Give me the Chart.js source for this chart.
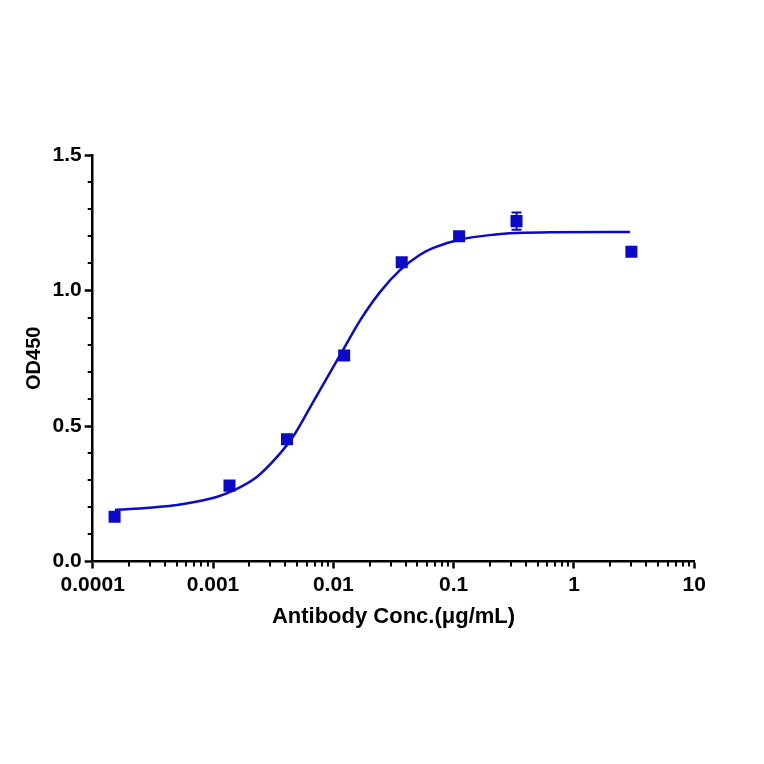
<!DOCTYPE html>
<html>
<head>
<meta charset="utf-8">
<script src="https://cdn.jsdelivr.net/npm/chart.js@4.4.1/dist/chart.umd.min.js"></script>
<style>
html,body{margin:0;padding:0;background:#fff;}
canvas{display:block;}
</style>
</head>
<body>
<canvas id="c" width="764" height="764"></canvas>
<script>
// measured data points
const concentrations = [0.000152, 0.00137, 0.00412, 0.0123, 0.037, 0.111, 0.333, 3];
const od450 = [0.165, 0.280, 0.451, 0.760, 1.104, 1.200, 1.256, 1.143];
const od450Err = [0.008, 0.010, 0.010, 0.012, 0.012, 0.010, 0.032, 0.008];

// fitted curve
const curveX = [0.000153, 0.000299, 0.000566, 0.00107, 0.00148, 0.00231, 0.00339, 0.00465, 0.00682, 0.0114, 0.0167, 0.0245, 0.0358, 0.0525, 0.0678, 0.113, 0.214, 0.334, 0.632, 2.92];
const curveY = [0.190, 0.198, 0.212, 0.238, 0.262, 0.312, 0.385, 0.462, 0.590, 0.762, 0.890, 0.995, 1.075, 1.132, 1.157, 1.188, 1.206, 1.212, 1.215, 1.216];

// axes
const xMajorTicks = [0.0001, 0.001, 0.01, 0.1, 1, 10];
const xTickLabels = ['0.0001', '0.001', '0.01', '0.1', '1', '10'];
const xMinorMultipliers = [2, 3, 4, 5, 6, 7, 8, 9];
const yMajorTicks = [0, 0.5, 1.0, 1.5];
const yTickLabels = ['0.0', '0.5', '1.0', '1.5'];
const yMinorTicks = [0.1, 0.2, 0.3, 0.4, 0.6, 0.7, 0.8, 0.9, 1.1, 1.2, 1.3, 1.4];

const xTitle = 'Antibody Conc.(\u03bcg/mL)';
const yTitle = 'OD450';

const BLUE = '#0a0ac8';
const FONT = '"Liberation Sans", Arial, sans-serif';

const minorTicksPlugin = {
  id: 'minorTicks',
  afterDraw(chart) {
    const ctx = chart.ctx;
    const xs = chart.scales.x, ys = chart.scales.y;
    const area = chart.chartArea;
    ctx.save();
    ctx.strokeStyle = '#000';
    ctx.lineWidth = 2;
    ctx.beginPath();
    for (let k = 0; k < xMajorTicks.length - 1; k++) {
      for (const m of xMinorMultipliers) {
        const px = Math.round(xs.getPixelForValue(xMajorTicks[k] * m));
        ctx.moveTo(px, area.bottom);
        ctx.lineTo(px, area.bottom + 5);
      }
    }
    for (const v of yMinorTicks) {
      const py = Math.round(ys.getPixelForValue(v));
      ctx.moveTo(area.left, py);
      ctx.lineTo(area.left - 5, py);
    }
    ctx.stroke();
    ctx.restore();
  }
};

const errorBarPlugin = {
  id: 'errorBars',
  afterDatasetsDraw(chart) {
    const ctx = chart.ctx;
    const xs = chart.scales.x, ys = chart.scales.y;
    ctx.save();
    ctx.strokeStyle = BLUE;
    ctx.lineWidth = 2;
    ctx.beginPath();
    for (let i = 0; i < concentrations.length; i++) {
      const px = xs.getPixelForValue(concentrations[i]);
      const pTop = ys.getPixelForValue(od450[i] + od450Err[i]);
      const pBot = ys.getPixelForValue(od450[i] - od450Err[i]);
      ctx.moveTo(px, pTop); ctx.lineTo(px, pBot);
      ctx.moveTo(px - 5, pTop); ctx.lineTo(px + 5, pTop);
      ctx.moveTo(px - 5, pBot); ctx.lineTo(px + 5, pBot);
    }
    ctx.stroke();
    ctx.restore();
  }
};

new Chart(document.getElementById('c'), {
  type: 'scatter',
  data: {
    datasets: [
      {
        label: 'data',
        data: concentrations.map((x, i) => ({x: x, y: od450[i]})),
        pointStyle: 'rect',
        pointRadius: 8.5,
        backgroundColor: BLUE,
        borderColor: BLUE,
        borderWidth: 0,
        showLine: false,
        order: 0
      },
      {
        label: 'fit',
        data: curveX.map((x, i) => ({x: x, y: curveY[i]})),
        showLine: true,
        pointRadius: 0,
        borderColor: BLUE,
        borderWidth: 2.5,
        cubicInterpolationMode: 'monotone',
        fill: false,
        order: 1
      }
    ]
  },
  options: {
    responsive: false,
    animation: false,
    devicePixelRatio: 1,
    layout: { padding: { left: 18, top: 155, right: 69.7, bottom: 130 } },
    plugins: { legend: { display: false }, tooltip: { enabled: false } },
    scales: {
      x: {
        type: 'logarithmic',
        min: 0.0001,
        max: 10,
        afterBuildTicks(scale) {
          scale.ticks = xMajorTicks.map(v => ({value: v}));
        },
        afterFit(scale) { scale.height = 72.5; },
        ticks: {
          color: '#000',
          font: { family: FONT, size: 21, weight: 'bold' },
          padding: 4,
          maxRotation: 0,
          autoSkip: false,
          callback: (v, i) => xTickLabels[i]
        },
        grid: { drawOnChartArea: false, drawTicks: true, tickLength: 7, tickWidth: 2.5, tickColor: '#000' },
        border: { display: true, color: '#000', width: 2.5 },
        title: {
          display: true,
          text: xTitle,
          color: '#000',
          font: { family: FONT, size: 22, weight: 'bold' },
          padding: { top: 4, bottom: 4 }
        }
      },
      y: {
        min: 0,
        max: 1.5,
        afterBuildTicks(scale) {
          scale.ticks = yMajorTicks.map(v => ({value: v}));
        },
        afterFit(scale) { scale.width = 74.7; },
        ticks: {
          color: '#000',
          font: { family: FONT, size: 21, weight: 'bold' },
          padding: 3,
          callback: (v, i) => yTickLabels[i]
        },
        grid: { drawOnChartArea: false, drawTicks: true, tickLength: 8, tickWidth: 2.5, tickColor: '#000' },
        border: { display: true, color: '#000', width: 2.5 },
        title: {
          display: true,
          text: yTitle,
          color: '#000',
          font: { family: FONT, size: 20, weight: 'bold' },
          padding: { top: 4, bottom: 4 }
        }
      }
    }
  },
  plugins: [minorTicksPlugin, errorBarPlugin]
});
</script>
</body>
</html>
